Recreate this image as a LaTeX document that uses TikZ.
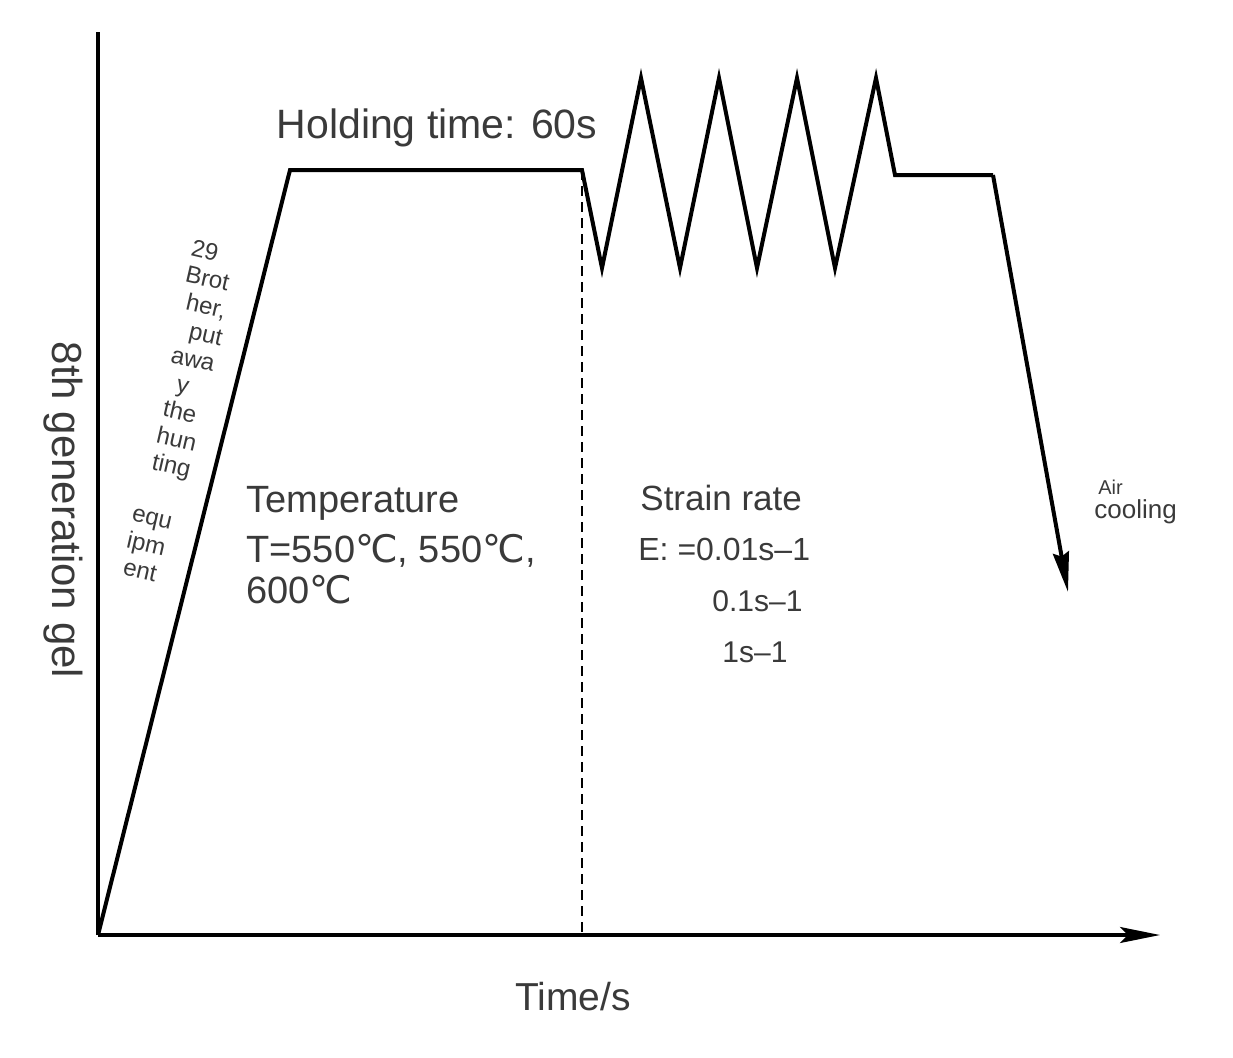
\documentclass[tikz,border=0pt]{standalone}
\usepackage{fontspec}
\setmainfont{Liberation Sans}
\newfontfamily\dv{DejaVu Sans}
\usetikzlibrary{arrows.meta}
\definecolor{txt}{HTML}{3A3A3A}
\tikzset{
  curve/.style={line width=2pt, black, line join=miter},
  axis/.style={line width=1.6pt, black},
  lbl/.style={text=txt, inner sep=0pt},
}
\newcommand{\degc}{{\dv ℃}}
\newcommand{\sh}[1]{\hspace*{#1}}
\begin{document}
\begin{tikzpicture}[x=0.5pt,y=-0.5pt]
\useasboundingbox (0,0) rectangle (1233,1057);
% axes
\coordinate (O) at (98,935);
\coordinate (ytop) at (98,32);
\coordinate (xend) at (1160,935);
\draw[axis] (O) -- (ytop);
\draw[axis,-{Stealth[length=20pt,width=8pt,inset=4pt]}] (O) -- (xend);
% process curve
\coordinate (p1) at (290,170);
\coordinate (p2) at (582,170);
\coordinate (z1) at (602,268);
\coordinate (t1) at (641,78);
\coordinate (z2) at (680,268);
\coordinate (t2) at (719,78);
\coordinate (z3) at (757,268);
\coordinate (t3) at (797,78);
\coordinate (z4) at (835,268);
\coordinate (t4) at (876,78);
\coordinate (h1) at (895,175);
\coordinate (h2) at (993,175);
\coordinate (cend) at (1068,592);
\coordinate (dbot) at (582,935);
\draw[curve] (O) -- (p1) -- (p2) -- (z1) -- (t1) -- (z2) -- (t2) -- (z3) -- (t3) -- (z4) -- (t4) -- (h1) -- (h2);
\draw[curve,-{Stealth[length=20pt,width=8pt,inset=2pt]}] (h2) -- (cend);
\draw[line width=1.2pt, dash pattern=on 5pt off 3pt] (p2) -- (dbot);
% labels
\node[lbl, font=\fontsize{20.5}{24}\selectfont] (hold) at (437,128) {Holding time: 60s};
\node[lbl, font=\fontsize{19}{22}\selectfont, anchor=base west] (temp1) at (246,512) {Temperature};
\node[lbl, font=\fontsize{19}{22}\selectfont, anchor=base west] (temp2) at (246,562) {T=550\degc, 550\degc,};
\node[lbl, font=\fontsize{19}{22}\selectfont, anchor=base west] (temp3) at (246,603) {600\degc};
\node[lbl, font=\fontsize{17.5}{20}\selectfont, anchor=base west] (sr) at (640,510) {Strain rate};
\node[lbl, font=\fontsize{16}{18}\selectfont, anchor=base west] (sr1) at (638,560) {E: =0.01s–1};
\node[lbl, font=\fontsize{15}{17}\selectfont, anchor=base west] (sr2) at (712,611) {0.1s–1};
\node[lbl, font=\fontsize{15}{17}\selectfont, anchor=base west] (sr3) at (722,662) {1s–1};
\node[lbl, font=\fontsize{19.5}{22}\selectfont, anchor=base] (xl) at (573,1010) {Time/s};
\node[lbl, font=\fontsize{21}{24}\selectfont, rotate=-90] (yl) at (63,510) {8th generation gel};
\node[lbl, font=\fontsize{10}{11}\selectfont, anchor=base west] (air) at (1098,494) {Air};
\node[lbl, font=\fontsize{13}{14}\selectfont, anchor=base west] (cool) at (1094,518) {cooling};
% slanted text along ramp (one rotated block)
\node[lbl, font=\fontsize{12}{13.6}\selectfont, align=center, rotate=-13] (ramp) at (177,411)
  {29\sh{9pt}\\ Brot\\ \sh{5pt}her,\\ \sh{11pt}put\\ \sh{4pt}awa\\ y\sh{6pt}\\ \sh{3pt}the\\ \sh{6pt}hun\\ \sh{7pt}ting\\ \mbox{}\\ equ\\ ipm\\ ent};
\end{tikzpicture}
\end{document}
